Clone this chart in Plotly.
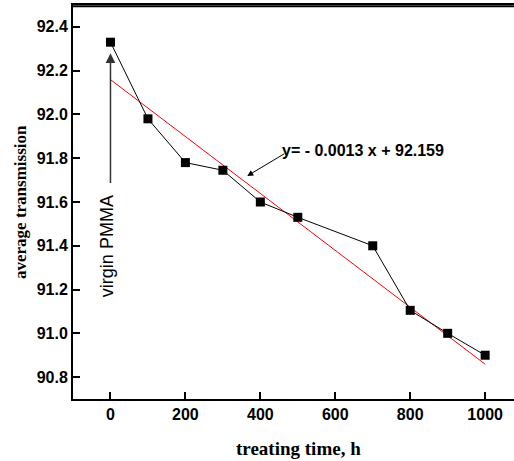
import plotly.graph_objects as go

# Data
treating_time = [0, 100, 200, 300, 400, 500, 700, 800, 900, 1000]
avg_transmission = [92.33, 91.98, 91.78, 91.745, 91.60, 91.53, 91.40, 91.105, 91.00, 90.90]
fit_slope = -0.0013
fit_intercept = 92.159
fit_x = [0, 1000]
fit_y = [fit_intercept + fit_slope * v for v in fit_x]

x_ticks = [0, 200, 400, 600, 800, 1000]
y_ticks = [90.8, 91.0, 91.2, 91.4, 91.6, 91.8, 92.0, 92.2, 92.4]

fig = go.Figure()
fig.add_trace(go.Scatter(x=fit_x, y=fit_y, mode="lines",
                         line=dict(color="#ff0000", width=1), showlegend=False))
fig.add_trace(go.Scatter(x=treating_time, y=avg_transmission, mode="lines+markers",
                         line=dict(color="#000000", width=1),
                         marker=dict(symbol="square", size=9, color="#000000"),
                         showlegend=False))

tickfont = dict(family="Liberation Sans, Arial", size=16, color="black", weight="bold")

fig.update_layout(
    width=514, height=461,
    margin=dict(l=73, r=0, t=5, b=62),
    paper_bgcolor="white", plot_bgcolor="white",
    xaxis=dict(range=[-100, 1077], tickvals=x_ticks, ticktext=[str(v) for v in x_ticks],
               ticks="inside", ticklen=7, tickwidth=1.5, tickcolor="black",
               showline=True, mirror=True, linecolor="black", linewidth=2, showgrid=False,
               zeroline=False, tickfont=tickfont),
    yaxis=dict(range=[90.7, 92.5], tickvals=y_ticks, ticktext=[f"{v:.1f}" for v in y_ticks],
               ticks="inside", ticklen=7, tickwidth=1.5, tickcolor="black",
               showline=True, linecolor="black", linewidth=2, showgrid=False,
               zeroline=False, tickfont=tickfont),
)

# top border (drawn slightly inside the plot area so it is not lost at the edge)
fig.add_shape(type="line", xref="paper", yref="paper", x0=0, x1=1, y0=0.997, y1=0.997,
              line=dict(color="black", width=2), layer="above")

# axis titles
fig.add_annotation(text="average transmission", xref="paper", yref="paper",
                   x=0, y=0.5, xshift=-53, textangle=-90, showarrow=False,
                   xanchor="center", yanchor="middle",
                   font=dict(family="Liberation Serif, Times New Roman", size=17,
                             color="black", weight="bold"))
fig.add_annotation(text="treating time, h", xref="paper", yref="paper",
                   x=0.512, y=0, yshift=-49, showarrow=False,
                   xanchor="center", yanchor="middle",
                   font=dict(family="Liberation Serif, Times New Roman", size=19,
                             color="black", weight="bold"))

# virgin PMMA arrow and label
fig.add_annotation(x=0, y=92.28, ax=0, ay=91.68, axref="x", ayref="y",
                   xref="x", yref="y", text="", showarrow=True,
                   arrowhead=2, arrowsize=1.3, arrowwidth=1.5, arrowcolor="#333333")
fig.add_annotation(x=-11, y=91.40, xref="x", yref="y", text="virgin PMMA",
                   textangle=-90, showarrow=False, xanchor="center", yanchor="middle",
                   font=dict(family="Liberation Sans, Arial", size=18, color="black"))

# equation
fig.add_annotation(x=673, y=91.836, xref="x", yref="y",
                   text="y= - 0.0013 x + 92.159", showarrow=False,
                   xanchor="center", yanchor="middle",
                   font=dict(family="Liberation Sans, Arial", size=16, color="black",
                             weight="bold"))
fig.add_annotation(x=365, y=91.719, ax=467.5, ay=91.824, axref="x", ayref="y",
                   xref="x", yref="y", text="", showarrow=True,
                   arrowhead=2, arrowsize=1.2, arrowwidth=1, arrowcolor="black")

fig.write_html("out.html", config={"displayModeBar": False},
               post_script="document.body.style.margin='0';document.body.style.overflow='hidden';")
